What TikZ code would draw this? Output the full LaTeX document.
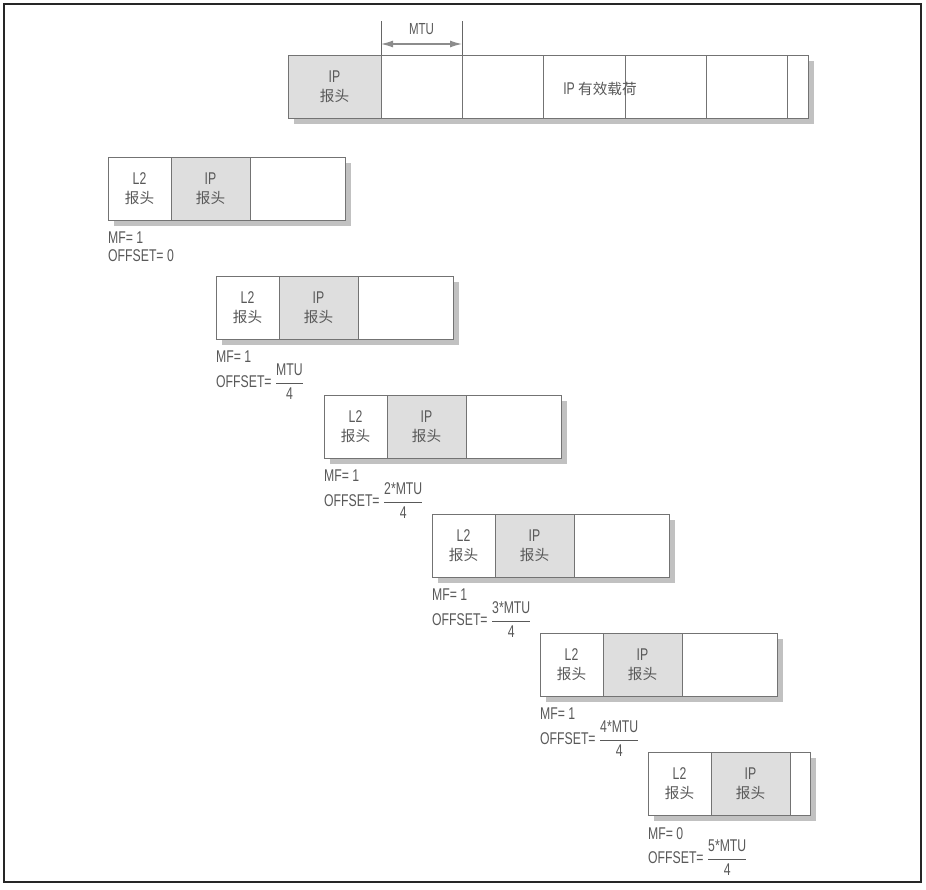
\documentclass[tikz,border=0pt]{standalone}
\usepackage{fontspec}
\setmainfont{Liberation Sans}[FakeStretch = 0.72]
\newfontfamily\cjk{Noto Sans CJK SC}[Scale = 0.86]
\usetikzlibrary{positioning, shadows, arrows.meta}

\tikzset{
    cell/.style = {draw = black!55, line width = 0.8pt, fill = white, minimum height = 63pt,
        inner sep = 0pt, outer sep = 0pt, anchor = north west, align = center, text = black!65,
        font = \fontsize{17}{19}\selectfont,
        drop shadow = {shadow xshift = 6pt, shadow yshift = -6pt, fill = black!35, opacity = 0.7}},
    hdr/.style = {cell, fill = black!13},
    tag/.style = {inner sep = 0pt, align = left, text = black!65, font = \fontsize{17}{18}\selectfont},
    tick/.style = {draw = black!60, line width = 0.8pt},
    span/.style = {draw = black!45, line width = 1.2pt,
        arrows = {Latex[length = 12pt, width = 7pt]-Latex[length = 12pt, width = 7pt]}}
}
\newcommand{\offfrac}[1]{$\displaystyle\frac{\mbox{#1}}{\mbox{4}}$}

\begin{document}
\begin{tikzpicture}[x = 1pt, y = -1pt]
    \useasboundingbox (0,0) rectangle (926,889);
    \draw [line width = 1.4pt, black!85] (4,4) rectangle (921,882);

    \node [hdr, minimum width = 93pt] (top0) at (288,55) {IP\\{\cjk 报头}};
    \foreach \w [count = \k, remember = \k as \j (initially 0)] in {81,81,82,81,81,21}
        \node [cell, minimum width = \w pt, right = 0pt of top\j] (top\k) {};
    \node [tag] (payload) at (600,89) {IP {\cjk 有效载荷}};

    \draw [tick] (top1.north west) -- ++(0,-34) coordinate (mtua);
    \draw [tick] (top2.north west) -- ++(0,-34) coordinate (mtub);
    \draw [span] ([yshift = -23pt]mtua) -- ([yshift = -23pt]mtub)
        node [tag, midway, above = 9pt, font = \fontsize{16}{16}\selectfont] (mtu) {MTU};

    \foreach \i/\w/\mf/\off in {0/95/1/0, 1/95/1/\offfrac{MTU}, 2/95/1/\offfrac{2*MTU},
            3/95/1/\offfrac{3*MTU}, 4/95/1/\offfrac{4*MTU}, 5/20/0/\offfrac{5*MTU}} {
        \node [cell, minimum width = 63pt] (l2\i) at (108 + 108*\i, 157 + 119*\i) {L2\\{\cjk 报头}};
        \node [hdr, minimum width = 79pt, right = 0pt of l2\i] (ip\i) {IP\\{\cjk 报头}};
        \node [cell, minimum width = \w pt, right = 0pt of ip\i] (pl\i) {};
        \node [tag, below right = 12pt and 0pt of l2\i.south west] (mf\i) {MF= \mf\\OFFSET= \off};
    }
\end{tikzpicture}
\end{document}
